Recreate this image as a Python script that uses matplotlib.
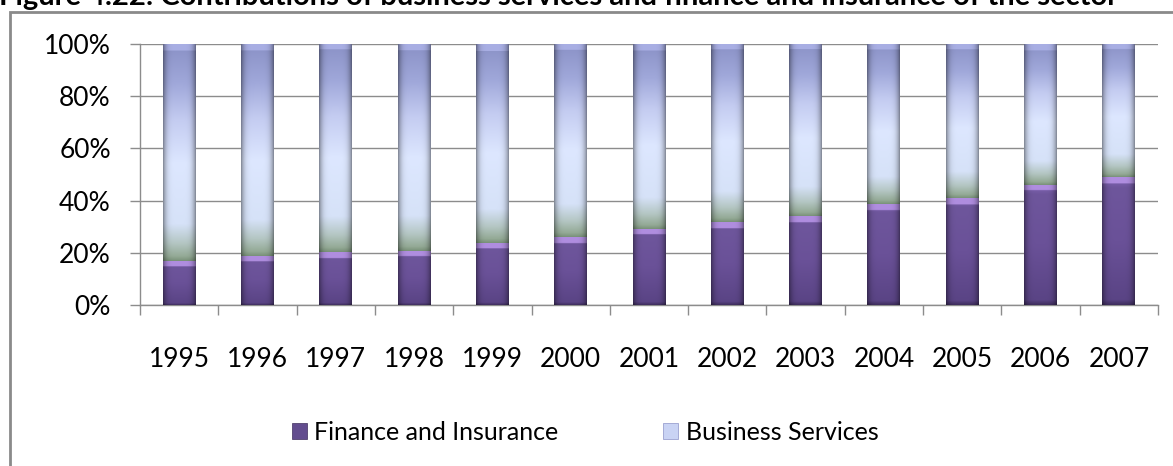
import numpy as np
import matplotlib
matplotlib.use("Agg")
import matplotlib.pyplot as plt
from matplotlib.patches import Patch, Rectangle
from matplotlib.colors import to_rgb

plt.rcParams['font.family'] = ['Lato', 'DejaVu Sans']

years = ["1995", "1996", "1997", "1998", "1999", "2000", "2001",
         "2002", "2003", "2004", "2005", "2006", "2007"]
finance = [16.9, 18.8, 20.3, 20.8, 23.8, 26.0, 29.2, 31.7, 34.0, 38.6, 40.9, 46.0, 48.9]
business = [83.1, 81.2, 79.7, 79.2, 76.2, 74.0, 70.8, 68.3, 66.0, 61.4, 59.1, 54.0, 51.1]
labels = ["Finance and Insurance", "Business Services"]
title = "Figure 4.22: Contributions of business services and finance and insurance of the sector"

W, H = 1173, 466
fig = plt.figure(figsize=(W / 100, H / 100), dpi=100)
ax = fig.add_axes([140 / W, 1 - 305 / H, (1158 - 140) / W, (305 - 44) / H])

# 100% stacked: normalise each year
tot = np.array(finance) + np.array(business)
fin_pct = np.array(finance) / tot * 100
bus_pct = np.array(business) / tot * 100
x = np.arange(len(years))

bars_f = ax.bar(x, fin_pct, width=0.42, color="#634d8f", zorder=3, linewidth=0)
bars_b = ax.bar(x, bus_pct, bottom=fin_pct, width=0.42, color="#c9d3f4", zorder=3, linewidth=0)

px_per_unit = (305 - 44) / 100.0


def shade(patch, stops, bevel_top, bevel_col):
    # gradient fill clipped to the bar, with darker sides and a light top bevel
    x0, y0 = patch.get_x(), patch.get_y()
    w, h = patch.get_width(), patch.get_height()
    n = 200
    t = np.linspace(0, 1, n)
    pos = [s[0] for s in stops]
    cols = np.array([to_rgb(s[1]) for s in stops])
    col = np.stack([np.interp(t, pos, cols[:, k]) for k in range(3)], axis=-1)
    bev = bevel_top / (h * px_per_unit)
    m = t > 1 - bev
    col[m] = np.array(to_rgb(bevel_col))
    xs = np.linspace(-1, 1, 40)
    prof = 1 - 0.4 * np.abs(xs) ** 5
    img = col[:, None, :] * prof[None, :, None]
    im = ax.imshow(img, origin='lower', extent=(x0, x0 + w, y0, y0 + h),
                   aspect='auto', zorder=3.1, interpolation='bilinear')
    im.set_clip_path(patch)


fin_stops = [(0, "#3f2e5e"), (0.04, "#5a4485"), (0.5, "#6a5198"), (0.92, "#6e569c"), (1, "#8468b8")]
bus_stops = [(0, "#7b937b"), (0.02, "#94aa96"), (0.08, "#b4c6c3"), (0.17, "#d6e2f8"),
             (0.45, "#dde7ff"), (0.65, "#c4ccf1"), (0.82, "#a0a8da"), (1, "#8a91c6")]
for p in bars_f:
    shade(p, fin_stops, 6, "#b08ee0")
for p in bars_b:
    shade(p, bus_stops, 6, "#a9afe4")

ax.set_xlim(-0.5, len(years) - 0.5)
ax.set_ylim(0, 100)
ax.set_yticks([0, 20, 40, 60, 80, 100])
ax.set_yticklabels(["0%", "20%", "40%", "60%", "80%", "100%"])
ax.set_xticks(x)
ax.set_xticklabels(years)
ax.set_xticks(np.arange(len(years) + 1) - 0.5, minor=True)
ax.tick_params(axis='x', which='major', length=0, pad=30, labelsize=19, colors="#000000")
ax.tick_params(axis='x', which='minor', length=7, width=1, color="#8c8c8c")
ax.tick_params(axis='y', length=7, width=1, color="#8c8c8c", pad=14, labelsize=19)
ax.grid(axis='y', color="#8c8c8c", lw=1, zorder=0)
ax.set_axisbelow(True)
for s in ["top", "right"]:
    ax.spines[s].set_visible(False)
for s in ["left", "bottom"]:
    ax.spines[s].set_color("#8c8c8c")
    ax.spines[s].set_linewidth(1)

handles = [Patch(facecolor="#634d8f", edgecolor="#3f2e5e", lw=0.5),
           Patch(facecolor="#c9d3f4", edgecolor="#8c93c8", lw=0.5)]
fig.legend(handles, labels, loc='center', bbox_to_anchor=(585 / W, 1 - 432 / H),
           ncol=2, frameon=False, fontsize=18, handlelength=0.6, handleheight=0.6,
           handletextpad=0.3, columnspacing=4.2)

# outer frame of the chart box, partly cut off
fig.add_artist(Rectangle((10 / W, -0.2), 1.2, 1.2 - 12 / H, transform=fig.transFigure,
                         fill=False, edgecolor="#8a8a8a", lw=2))
fig.text(-1 / W, 1 - 5 / H, title, fontsize=21, fontweight='bold', ha='left', va='baseline')

fig.savefig("out.png", dpi=100)
